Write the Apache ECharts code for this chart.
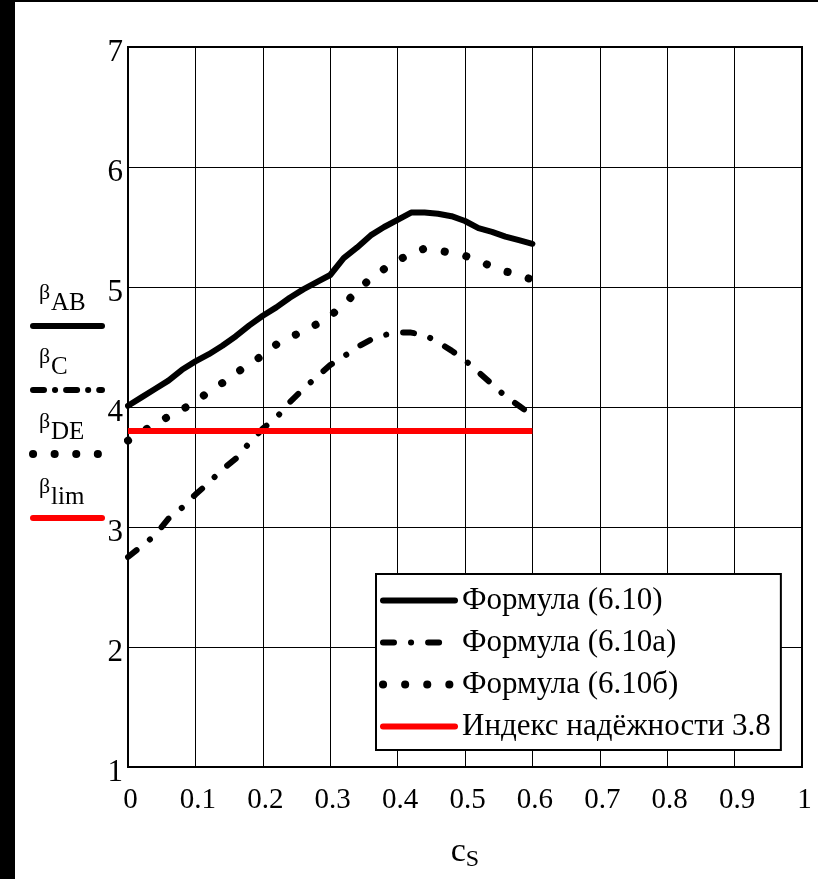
<!DOCTYPE html>
<html>
<head>
<meta charset="utf-8">
<script src="https://cdn.jsdelivr.net/npm/echarts@6/dist/echarts.min.js"></script>
<style>
  html, body { margin: 0; padding: 0; background: #fff; }
  #chart { position: absolute; left: 0; top: 0; width: 818px; height: 879px; }
</style>
</head>
<body>
<div id="chart"></div>
<script>
// c_S values shared by all curves
const cs = [0, 0.02, 0.04, 0.06, 0.08, 0.1, 0.12, 0.14, 0.16, 0.18, 0.2, 0.22, 0.24, 0.26, 0.28, 0.3,
  0.32, 0.34, 0.36, 0.38, 0.4, 0.42, 0.44, 0.46, 0.48, 0.5, 0.52, 0.54, 0.56, 0.58, 0.6]

// beta_AB, formula (6.10)
const betaAB = [4.01, 4.08, 4.15, 4.22, 4.31, 4.38, 4.44, 4.51, 4.59, 4.68, 4.76, 4.83, 4.91, 4.98, 5.04, 5.10,
  5.24, 5.33, 5.43, 5.50, 5.56, 5.62, 5.62, 5.61, 5.59, 5.55, 5.49, 5.46, 5.42, 5.39, 5.36]

// beta_C, formula (6.10а)
const betaC = [2.75, 2.84, 2.93, 3.07, 3.16, 3.27, 3.37, 3.48, 3.57, 3.70, 3.82, 3.91, 4.04, 4.15, 4.25, 4.35,
  4.42, 4.50, 4.56, 4.60, 4.62, 4.62, 4.60, 4.54, 4.47, 4.39, 4.29, 4.19, 4.09, 4.01, 3.93]

// beta_DE, formula (6.10б)
const betaDE = [3.72, 3.79, 3.86, 3.92, 3.98, 4.04, 4.13, 4.20, 4.28, 4.36, 4.43, 4.52, 4.58, 4.63, 4.69, 4.76,
  4.85, 4.97, 5.07, 5.15, 5.22, 5.28, 5.32, 5.31, 5.28, 5.26, 5.22, 5.17, 5.13, 5.10, 5.06]

// reliability index beta_lim
const limX = [0, 0.6]
const betaLim = [3.8, 3.8]

const seriesNames = ['Формула (6.10)', 'Формула (6.10а)', 'Формула (6.10б)', 'Индекс надёжности 3.8']

const pairs = (xs, ys) => xs.map((x, i) => [x, ys[i]])

const FONT = '"Liberation Serif", "DejaVu Serif", serif'

const chart = echarts.init(document.getElementById('chart'))

// left-side legend (beta labels with line samples)
const sideItems = [
  { main: 'AB', y: 291, lineY: 326, dash: null, color: '#000', width: 6 },
  { main: 'C', y: 355, lineY: 390, dash: [11, 11, 0.1, 11], color: '#000', width: 6 },
  { main: 'DE', y: 420, lineY: 454, dash: [0.1, 21.5], color: '#000', width: 8 },
  { main: 'lim', y: 485, lineY: 518, dash: null, color: '#ff0000', width: 6 }
]
const sideGraphics = []
sideItems.forEach(it => {
  sideGraphics.push({
    type: 'text', left: 39, top: it.y - 9,
    style: { text: 'β', font: '22px ' + FONT, fill: '#000' }
  })
  sideGraphics.push({
    type: 'text', left: 51, top: it.y,
    style: { text: it.main, font: '25px ' + FONT, fill: '#000' }
  })
  sideGraphics.push({
    type: 'line',
    shape: { x1: 33, y1: it.lineY, x2: 102, y2: it.lineY },
    style: { stroke: it.color, lineWidth: it.width, lineCap: 'round', lineDash: it.dash }
  })
})

const option = {
  animation: false,
  backgroundColor: '#fff',
  textStyle: { fontFamily: FONT },
  graphic: [
    { type: 'rect', shape: { x: 0, y: 0, width: 15, height: 879 }, style: { fill: '#000' } },
    { type: 'rect', shape: { x: 0, y: 0, width: 818, height: 2 }, style: { fill: '#000' } },
    ...sideGraphics
  ],
  grid: {
    left: 128, top: 47, right: 16, bottom: 112,
    show: true, borderColor: '#000', borderWidth: 2, backgroundColor: 'transparent'
  },
  legend: {
    orient: 'vertical',
    left: 376, top: 574,
    data: seriesNames,
    itemWidth: 72,
    itemHeight: 14,
    itemGap: 11,
    padding: [11, 10, 8, 3],
    backgroundColor: '#fff',
    borderColor: '#000',
    borderWidth: 2,
    borderRadius: 0,
    itemStyle: { opacity: 0 },
    lineStyle: { width: 'inherit', cap: 'round' },
    textStyle: { fontFamily: FONT, fontSize: 31, color: '#000', padding: [0, 0, 0, 2] }
  },
  xAxis: {
    type: 'value',
    min: 0, max: 1, interval: 0.1,
    name: '{c|c}{s|S}',
    nameLocation: 'middle',
    nameGap: 65,
    nameTextStyle: {
      rich: {
        c: { fontFamily: FONT, fontSize: 34, color: '#000' },
        s: { fontFamily: FONT, fontSize: 24, color: '#000', padding: [16, 0, 0, 0] }
      }
    },
    axisLine: { show: false },
    axisTick: { show: false },
    axisLabel: { fontFamily: FONT, fontSize: 29, color: '#000', margin: 19, padding: [0, 0, 0, 5] },
    splitLine: { show: true, lineStyle: { color: '#000', width: 1 } }
  },
  yAxis: {
    type: 'value',
    min: 1, max: 7, interval: 1,
    axisLine: { show: false },
    axisTick: { show: false },
    axisLabel: {
      margin: 5,
      formatter: v => '{n|' + v + '}',
      rich: { n: { fontFamily: FONT, fontSize: 31, color: '#000', padding: [12, 0, 0, 0] } }
    },
    splitLine: { show: true, lineStyle: { color: '#000', width: 1 } }
  },
  series: [
    {
      name: seriesNames[0], type: 'line', symbol: 'none',
      data: pairs(cs, betaAB),
      lineStyle: { color: '#000', width: 6, cap: 'round', join: 'round' },
      itemStyle: { color: '#000' }
    },
    {
      name: seriesNames[1], type: 'line', symbol: 'none',
      data: pairs(cs, betaC),
      lineStyle: { color: '#000', width: 6, type: [11, 17, 0.1, 17], cap: 'round' },
      itemStyle: { color: '#000' }
    },
    {
      name: seriesNames[2], type: 'line', symbol: 'none',
      data: pairs(cs, betaDE),
      lineStyle: { color: '#000', width: 8, type: [0.1, 22], cap: 'round' },
      itemStyle: { color: '#000' }
    },
    {
      name: seriesNames[3], type: 'line', symbol: 'none',
      data: pairs(limX, betaLim),
      lineStyle: { color: '#ff0000', width: 6 },
      itemStyle: { color: '#ff0000' }
    }
  ]
}

chart.setOption(option)
</script>
</body>
</html>
